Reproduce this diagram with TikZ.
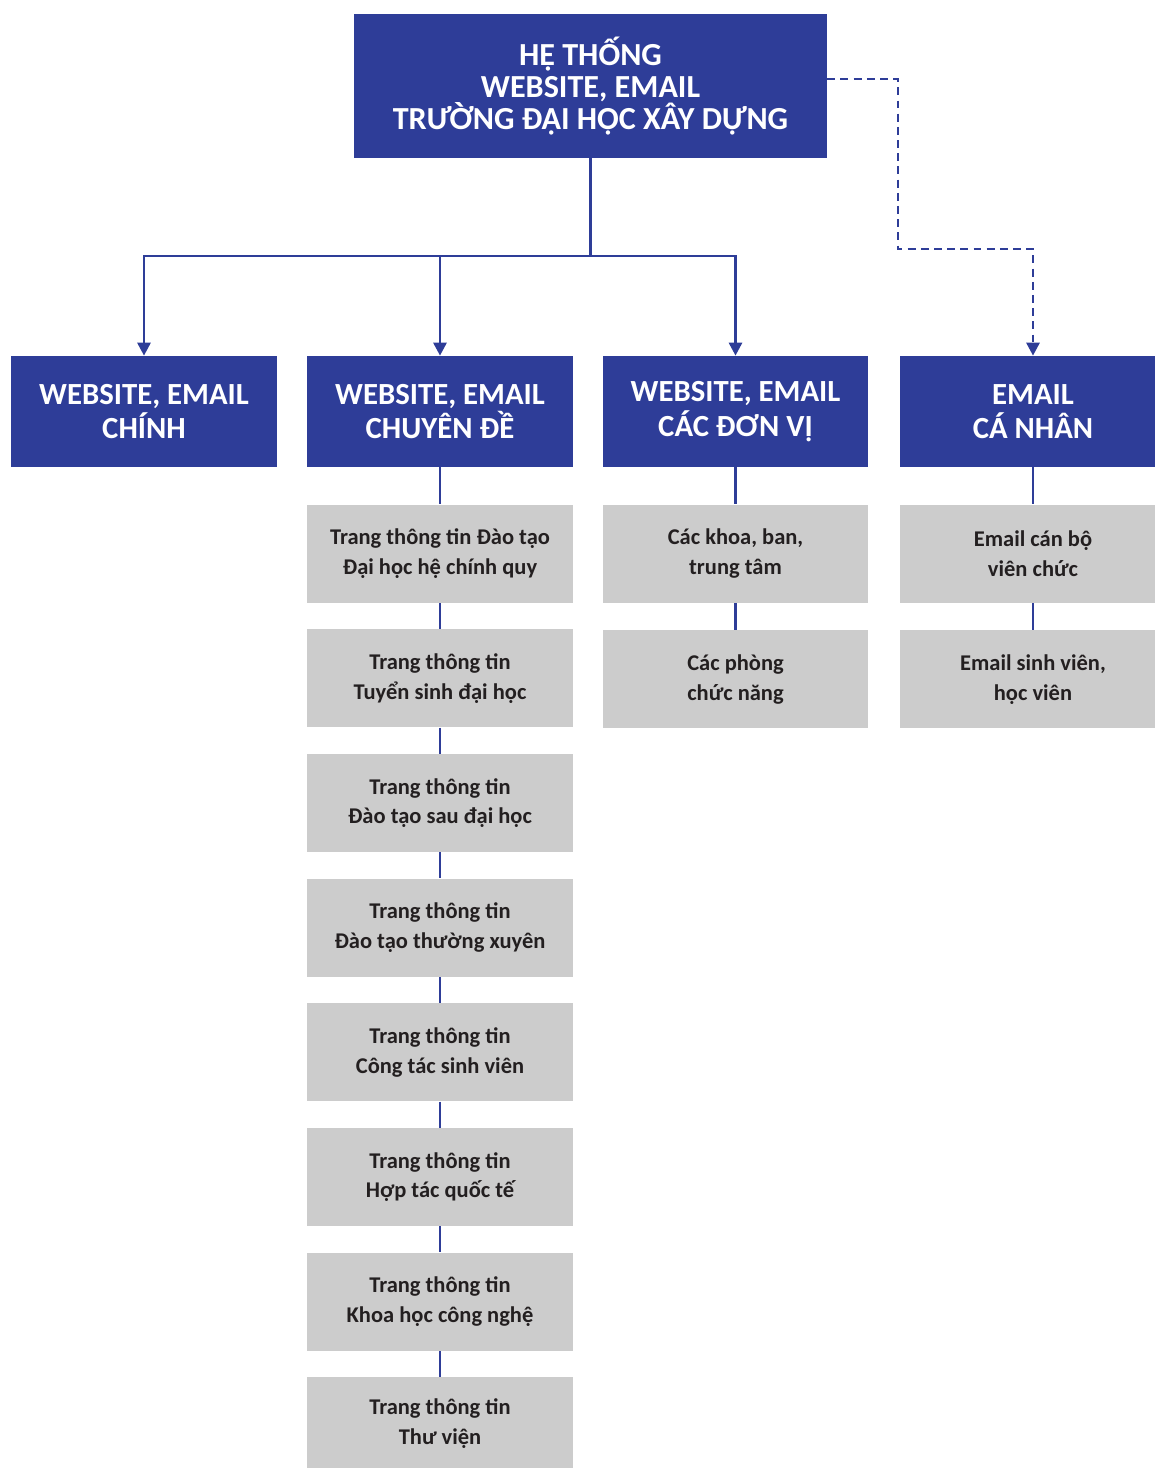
\documentclass[tikz,border=0pt]{standalone}
\usepackage{fontspec}
\setmainfont{Carlito}
\usepackage{xcolor}
\usetikzlibrary{
    arrows.meta,
    positioning,
    calc
}
\definecolor{nucblue}{RGB}{46,61,152}
\definecolor{nucgray}{RGB}{204,204,204}
\definecolor{nuctext}{RGB}{35,31,32}
\tikzset{%
    >={Triangle[width=2.6mm,length=2.6mm]},
    % Specifications for style of nodes:
    plain/.style = {},
    base/.style = {
        plain,
        rectangle, inner sep=0pt,
        text centered, align=center,
        minimum width=5.32cm
    },
    head/.style = {
        base, fill=nucblue, text=white,
        minimum height=2.22cm,
        font=\bfseries\fontsize{17.5}{19.5}\selectfont
    },
    root/.style = {head, minimum width=9.46cm, minimum height=2.88cm,
        font=\bfseries\fontsize{18.3}{18.2}\selectfont},
    item/.style = {
        base, fill=nucgray, text=nuctext,
        minimum height=1.96cm,
        font=\bfseries\fontsize{12.8}{17}\selectfont
    },
    link/.style = {draw=nucblue, line width=1.6pt},
    optional/.style = {link, dash pattern=on 4.5pt off 3pt}
}
\begin{document}
\begin{tikzpicture}[x=0.02cm, y=-0.02cm, node distance=0.52cm]
\useasboundingbox (0,0) rectangle (1155,1468);
% Specification of nodes (position, etc.)
\node (sys)      [root] at (590.5,86) {HỆ THỐNG\\WEBSITE, EMAIL\\TRƯỜNG ĐẠI HỌC XÂY DỰNG};
\node (main)     [head] at (144,411.5) {WEBSITE, EMAIL\\CHÍNH};
\node (topic)    [head] at (440,411.5) {WEBSITE, EMAIL\\CHUYÊN ĐỀ};
\node (unit)     [head] at (735.5,411.5) {WEBSITE, EMAIL\\CÁC ĐƠN VỊ};
\node (personal) [head] at (1033,411.5) {EMAIL\\CÁ NHÂN};
% topic column
\node (t1) [item, below=0.74cm of topic] {Trang thông tin Đào tạo\\Đại học hệ chính quy};
\node (t2) [item, below=of t1] {Trang thông tin\\Tuyển sinh đại học};
\node (t3) [item, below=of t2] {Trang thông tin\\Đào tạo sau đại học};
\node (t4) [item, below=of t3] {Trang thông tin\\Đào tạo thường xuyên};
\node (t5) [item, below=of t4] {Trang thông tin\\Công tác sinh viên};
\node (t6) [item, below=of t5] {Trang thông tin\\Hợp tác quốc tế};
\node (t7) [item, below=of t6] {Trang thông tin\\Khoa học công nghệ};
\node (t8) [item, below=of t7, minimum height=1.84cm] {Trang thông tin\\Thư viện};
% unit column
\node (u1) [item, below=0.74cm of unit] {Các khoa, ban,\\trung tâm};
\node (u2) [item, below=0.54cm of u1] {Các phòng\\chức năng};
% personal column
\node (p1) [item, below=0.74cm of personal] {Email cán bộ\\viên chức};
\node (p2) [item, below=0.54cm of p1] {Email sinh viên,\\học viên};
\coordinate (split) at (590.5,256);
\coordinate (bend)  at (898,249);
% Specification of paths
\draw[link] (sys) -- (split);
\draw[link,->] (split) -| (main);
\draw[link,->] (split) -| (topic);
\draw[link,->] (split) -| (unit);
\draw[optional,->] ([yshift=0.14cm]sys.east) -| (bend) -| (personal);
\draw[link] (topic) -- (t1);
\draw[link] (t1) -- (t2);
\draw[link] (t2) -- (t3);
\draw[link] (t3) -- (t4);
\draw[link] (t4) -- (t5);
\draw[link] (t5) -- (t6);
\draw[link] (t6) -- (t7);
\draw[link] (t7) -- (t8);
\draw[link] (unit) -- (u1);
\draw[link] (u1) -- (u2);
\draw[link] (personal) -- (p1);
\draw[link] (p1) -- (p2);
\end{tikzpicture}
\end{document}
